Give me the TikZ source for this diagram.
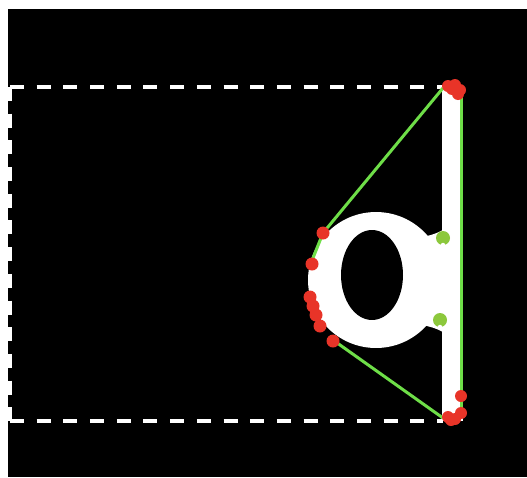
\documentclass[tikz,border=0pt]{standalone}
\usepackage{tikz}
\usetikzlibrary{calc}

\definecolor{linegreen}{RGB}{110,222,72}
\definecolor{dotgreen}{RGB}{140,200,60}
\definecolor{markred}{RGB}{232,52,40}

\begin{document}
\begin{tikzpicture}[
    x=0.02cm, y=-0.02cm,
    frame/.style={
        draw=white,
        line width=0.08cm,
        dash pattern=on 0.28cm off 0.254cm
    },
    hull/.style={
        draw=linegreen,
        line width=0.06cm
    },
    hit/.style={
        fill=markred
    },
    anchorpt/.style={
        fill=dotgreen
    }
]

% Canvas
\useasboundingbox (0,0) rectangle (527,477);
\fill[white] (0,0) rectangle (527,477);
\fill[black] (8,9) rectangle (527,477);

% Corners of the frame
\coordinate (tl) at (10,87);
\coordinate (tr) at (443,87);
\coordinate (bl) at (10,421);
\coordinate (br) at (443,421);

% Dashed frame
\draw[frame] (tl) -- (tr);
\draw[frame] (bl) -- (br);
\draw[frame] (tl) -- (bl);

% White bar and ring
\fill[white] (442,86) rectangle (463,421);
\fill[white] (415,238) .. controls (432,236) and (440,232) .. (446,228)
    -- (446,334) .. controls (440,330) and (432,326) .. (415,324) -- cycle;
\fill[white] (376,280) circle [radius=1.36cm];
\fill[black] (372,275) ellipse [x radius=0.62cm, y radius=0.9cm];

% Hull points
\coordinate (top) at (443,88);
\coordinate (bot) at (443,418);
\coordinate (up) at (323,233);
\coordinate (low) at (333,340);
\coordinate (railtop) at (461,95);
\coordinate (railbot) at (461,408);

% Green hull
\draw[hull] (top) -- (up);
\draw[hull] (up) -- (311,263);
\draw[hull] (low) -- (bot);
\draw[hull] (railtop) -- (railbot);

% Green anchor dots
\fill[anchorpt] (443,238) circle [radius=0.14cm];
\fill[anchorpt] (440,320) circle [radius=0.14cm];
\fill[white] (443,245) circle [radius=0.045cm];
\fill[white] (440,327) circle [radius=0.045cm];

% Red marks on the ring
\foreach \px/\py in {323/233, 312/264, 310/297, 313/306, 316/315, 320/326, 333/341}
    \fill[hit] (\px,\py) circle [radius=0.13cm];

% Red marks at the corners
\foreach \px/\py in {448/86, 455/85, 460/90, 458/94, 452/89}
    \fill[hit] (\px,\py) circle [radius=0.12cm];
\foreach \px/\py in {461/396, 448/417, 455/419, 461/413, 451/420}
    \fill[hit] (\px,\py) circle [radius=0.12cm];

\end{tikzpicture}
\end{document}
